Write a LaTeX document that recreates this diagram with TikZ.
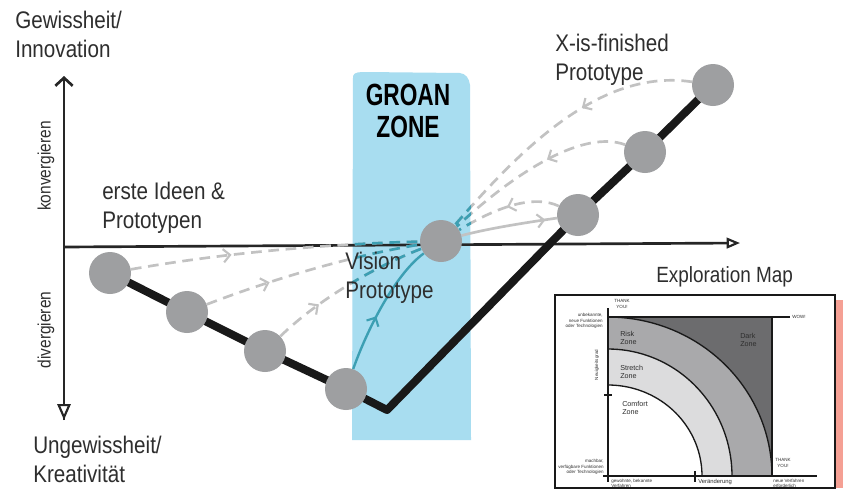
\documentclass[tikz,border=0pt]{standalone}
\usepackage{fontspec}
\setmainfont{Liberation Sans}
\newfontfamily\labfont[FakeStretch=0.86]{Liberation Sans}
\newfontfamily\groanfont[FakeStretch=0.74]{Liberation Sans}
\usetikzlibrary{arrows.meta,decorations.markings,backgrounds}
\definecolor{dotgray}{HTML}{9E9FA1}
\definecolor{dashgray}{HTML}{C2C2C2}
\definecolor{tealc}{HTML}{3C9FB3}
\definecolor{groanblue}{HTML}{A8DDF0}
\definecolor{salmon}{HTML}{F5A094}
\definecolor{darkzone}{HTML}{6C6C6E}
\definecolor{riskzone}{HTML}{A9A9AB}
\definecolor{stretchzone}{HTML}{DCDCDD}
\definecolor{inktext}{HTML}{2E2E2E}
\begin{document}
\begin{tikzpicture}[x=0.75pt,y=-0.75pt,
  proto/.style={circle,fill=dotgray,minimum size=31.5pt,inner sep=0pt},
  lab/.style={font=\labfont\fontsize{18}{21.5}\selectfont,inner sep=0pt,align=left,anchor=north west,text=inktext},
  sidelab/.style={font=\labfont\fontsize{13.5}{16}\selectfont,rotate=90,inner sep=0pt,text=inktext},
  mainline/.style={line width=6pt,black!90,line join=round},
  axisline/.style={line width=2pt,black!85},
  dasharc/.style={dashgray,line width=2pt,dash pattern=on 8pt off 5pt},
  tealarc/.style={tealc,line width=2pt,dash pattern=on 8pt off 5pt},
  midarrow/.style={postaction={decorate},decoration={markings,mark=at position #1 with {\arrow{Straight Barb[length=5pt,width=10pt,line width=1.6pt]}}}},
  mapnote/.style={font=\fontsize{3.4}{3.9}\selectfont,inner sep=0pt,text=inktext},
  zonelab/.style={font=\fontsize{5.4}{6.2}\selectfont,inner sep=0pt,align=left,anchor=west,text=inktext},
  maparc/.style={black!90,line width=1pt}
]
\useasboundingbox (0,0) rectangle (845,490);

% prototype circles
\node[proto] (c1) at (110,273) {};
\node[proto] (c2) at (187,312) {};
\node[proto] (c3) at (265,351) {};
\node[proto] (c4) at (346,389) {};
\node[proto] (c5) at (441,241) {};
\node[proto] (c6) at (578,215) {};
\node[proto] (c7) at (645,152) {};
\node[proto] (c8) at (713,85) {};
\coordinate (vtx) at (387,410);

\coordinate (ytop) at (64,76);
\coordinate (ybot) at (64,420);
\coordinate (xorig) at (64,247);
\coordinate (xend) at (740,243);

\begin{scope}[on background layer]
  \fill[white] (0,0) rectangle (845,490);
  % groan zone
  \fill[groanblue] (353,76) .. controls (354,72) and (360,72) .. (366,72) -- (460,73) .. controls (466,74) and (469,78) .. (470,85) -- (471,440) -- (352,440) -- cycle;
  % axes
  \draw[axisline,-{Straight Barb[length=6pt,width=13pt,line width=2pt]}] (ybot) -- (ytop);
  \draw[axisline,-{Triangle[length=12pt,width=10pt,fill=white,line width=1.6pt]}] (xorig) -- (ybot);
  \draw[axisline,-{Triangle[length=10pt,width=8pt,fill=white,line width=1.6pt]}] (xorig) -- (xend);
  % main path
  \draw[mainline] (c1.center) -- (c2.center) -- (c3.center) -- (c4.center) -- (vtx) -- (c6.center) -- (c7.center) -- (c8.center);
  % dashed arcs from the left
  \draw[dasharc,midarrow=0.35] (c1) .. controls (230,252) and (330,244) .. (c5);
  \draw[dasharc,midarrow=0.3] (c2) .. controls (270,280) and (350,256) .. (c5);
  \draw[dasharc,midarrow=0.3] (c3) .. controls (318,300) and (372,268) .. (c5);
  % dashed arcs from the right
  \draw[dasharc,midarrow=0.4] (c8) .. controls (600,68) and (520,150) .. (c5);
  \draw[dasharc,midarrow=0.42] (c7) .. controls (585,130) and (520,168) .. (c5);
  \draw[dasharc,midarrow=0.5] (c6) .. controls (535,195) and (500,205) .. (c5);
  % teal parts inside the groan zone
  \begin{scope}
    \clip (352,72) rectangle (471,440);
    \draw[tealarc] (c1) .. controls (230,252) and (330,244) .. (c5);
    \draw[tealarc] (c2) .. controls (270,280) and (350,256) .. (c5);
    \draw[tealarc] (c3) .. controls (318,300) and (372,268) .. (c5);
    \draw[tealarc] (c8) .. controls (600,68) and (520,150) .. (c5);
    \draw[tealarc] (c7) .. controls (585,130) and (520,168) .. (c5);
    \draw[tealarc] (c6) .. controls (535,195) and (500,205) .. (c5);
  \end{scope}
  % solid curves
  \draw[tealc,line width=1.8pt,midarrow=0.42] (c4) .. controls (370,322) and (398,272) .. (c5);
  \draw[dashgray,line width=2pt,midarrow=0.88] (c5) .. controls (490,228) and (530,222) .. (c6);
\end{scope}

% labels
\node[lab] (gew) at (15,11) {Gewissheit/\\Innovation};
\node[lab] (ungew) at (33,436) {Ungewissheit/\\Kreativität};
\node[lab] (erste) at (102,182) {erste Ideen \&\\Prototypen};
\node[lab] (vision) at (345,252) {Vision\\Prototype};
\node[lab] (xfin) at (555,34) {X-is-finished\\Prototype};
\node[lab,anchor=base west,font=\labfont\fontsize{16.5}{20}\selectfont] (expl) at (656,282) {Exploration Map};
\node[sidelab] (konv) at (46,166) {konvergieren};
\node[sidelab] (divg) at (46,330) {divergieren};
\node[font=\groanfont\bfseries\fontsize{23}{24}\selectfont,align=center,inner sep=0pt,anchor=base] (groan1) at (408,105) {GROAN};
\node[font=\groanfont\bfseries\fontsize{23}{24}\selectfont,align=center,inner sep=0pt,anchor=base] (groan2) at (408,137) {ZONE};

% exploration map inset
\fill[salmon] (836,300) rectangle (843,488);
\draw[line width=1.6pt,black!90,fill=white] (555,295) rectangle (835,488);
\fill[darkzone] (608,317) rectangle (772,476);
\fill[riskzone] (608,476) -- plot[domain=0:90,samples=40] ({608+164*cos(\x)},{476-159*sin(\x)}) -- cycle;
\fill[stretchzone] (608,476) -- plot[domain=0:90,samples=40] ({608+124*cos(\x)},{476-127*sin(\x)}) -- cycle;
\fill[white] (608,476) -- plot[domain=0:90,samples=40] ({608+94*cos(\x)},{476-91*sin(\x)}) -- cycle;
\draw[maparc] plot[domain=0:90,samples=40] ({608+164*cos(\x)},{476-159*sin(\x)});
\draw[maparc] plot[domain=0:90,samples=40] ({608+124*cos(\x)},{476-127*sin(\x)});
\draw[maparc] plot[domain=0:90,samples=40] ({608+94*cos(\x)},{476-91*sin(\x)});
\draw[maparc] (608,317) -- (790,317);
\draw[maparc] (772,317) -- (772,476);
\draw[maparc] (608,308) -- (608,482);
\draw[maparc] (603,476) -- (817,476);
\draw[maparc] (604,395) -- (612,395);
\draw[maparc] (695,471) -- (695,482);
\node[mapnote,align=center] (ty1) at (622,304) {THANK\\YOU!};
\node[mapnote,anchor=west] (wow) at (792,317) {WOW!};
\node[mapnote,align=right,anchor=east] (unb) at (603,321) {unbekannte,\\neue Funktionen\\oder Technologien};
\node[zonelab] (risk) at (620,338) {Risk\\Zone};
\node[zonelab] (dark) at (740,340) {Dark\\Zone};
\node[zonelab] (stretch) at (620,372) {Stretch\\Zone};
\node[zonelab] (comfort) at (622,408) {Comfort\\Zone};
\node[mapnote,rotate=90] (neu) at (597,365) {Neuigkeitsgrad};
\node[mapnote,align=right,anchor=east] (mach) at (604,467) {machbar,\\verfügbare Funktionen\\oder Technologien};
\node[mapnote,align=left,anchor=north west] (gewohnt) at (611,479) {gewohnte, bekannte\\Verfahren};
\node[mapnote,anchor=north west,font=\fontsize{4.4}{5}\selectfont] (ver) at (698,479) {Veränderung};
\node[mapnote,align=center] (ty2) at (783,463) {THANK\\YOU!};
\node[mapnote,align=left,anchor=north west] (neuv) at (773,479) {neue Verfahren\\erforderlich};
\end{tikzpicture}
\end{document}
